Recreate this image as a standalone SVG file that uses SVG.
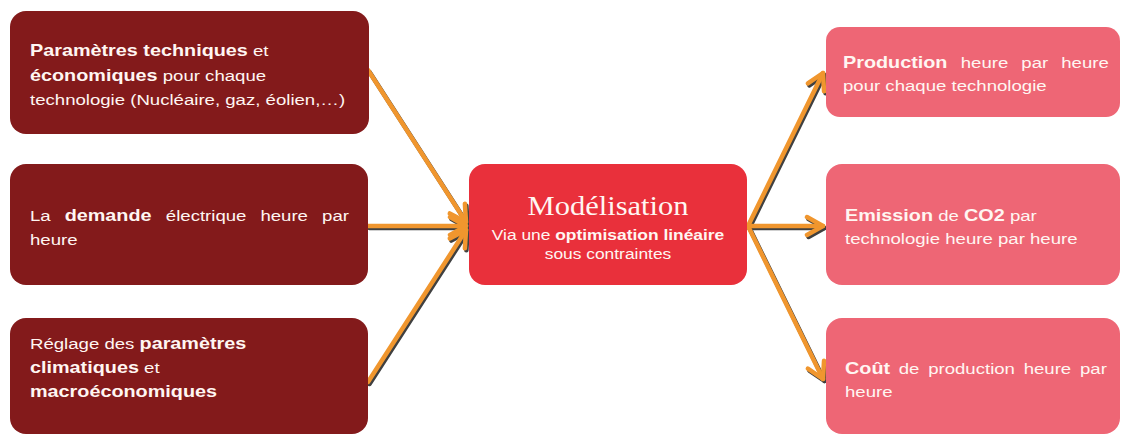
<svg xmlns="http://www.w3.org/2000/svg" width="1121" height="435" viewBox="0 0 1121 435">
<style>
.t{font-family:"Liberation Sans",Arial,sans-serif;font-size:15.5px;fill:#FFF6F2}
.b{font-weight:bold;font-size:16.5px}
.c{font-family:"Liberation Sans",Arial,sans-serif;font-size:14.5px;fill:#FFF6F2}
.serif{font-family:"Liberation Serif","Times New Roman",serif;font-size:28px;fill:#FFF6F2}
.dark{fill:#831A1B}
.mid{fill:#E9303B}
.light{fill:#EE6675}
.ar{stroke:#F0962E;stroke-width:4.5;fill:none;stroke-linecap:round}
.sh{stroke:#404040;stroke-width:4.5;fill:none;stroke-linecap:round}
</style>
<defs>
<marker id="ah" viewBox="-20 -12 24 24" refX="0" refY="0" markerWidth="24" markerHeight="24" markerUnits="userSpaceOnUse" orient="auto">
<path d="M-16,-9 L0,0 L-16,9" fill="none" stroke="#F0962E" stroke-width="4.5" stroke-linecap="round" stroke-linejoin="round"/>
</marker>
<marker id="ahs" viewBox="-20 -12 24 24" refX="0" refY="0" markerWidth="24" markerHeight="24" markerUnits="userSpaceOnUse" orient="auto">
<path d="M-16,-9 L0,0 L-16,9" fill="none" stroke="#404040" stroke-width="4.5" stroke-linecap="round" stroke-linejoin="round"/>
</marker>
</defs>
<rect width="1121" height="435" fill="#FFFFFF"/>

<g id="connectors">
<g transform="translate(1.5,2)">
<line class="sh" x1="368" y1="70" x2="466" y2="222" marker-end="url(#ahs)"/>
<line class="sh" x1="368" y1="226" x2="466" y2="226" marker-end="url(#ahs)"/>
<line class="sh" x1="368" y1="382" x2="466" y2="230" marker-end="url(#ahs)"/>
<line class="sh" x1="748" y1="226" x2="823" y2="73" marker-end="url(#ahs)"/>
<line class="sh" x1="748" y1="226" x2="823" y2="226" marker-end="url(#ahs)"/>
<line class="sh" x1="748" y1="226" x2="823" y2="379" marker-end="url(#ahs)"/>
</g>
<line class="ar" x1="368" y1="70" x2="466" y2="222" marker-end="url(#ah)"/>
<line class="ar" x1="368" y1="226" x2="466" y2="226" marker-end="url(#ah)"/>
<line class="ar" x1="368" y1="382" x2="466" y2="230" marker-end="url(#ah)"/>
<line class="ar" x1="748" y1="226" x2="823" y2="73" marker-end="url(#ah)"/>
<line class="ar" x1="748" y1="226" x2="823" y2="226" marker-end="url(#ah)"/>
<line class="ar" x1="748" y1="226" x2="823" y2="379" marker-end="url(#ah)"/>
</g>

<g id="in1">
<rect class="dark" x="10" y="11" width="359" height="123" rx="16"/>
<g transform="translate(30,0) scale(1.2,1)">
<text class="t" x="0" y="56"><tspan class="b">Paramètres techniques</tspan> et</text>
<text class="t" x="0" y="81"><tspan class="b">économiques</tspan> pour chaque</text>
<text class="t" x="0" y="105">technologie (Nucléaire, gaz, éolien,…)</text>
</g>
</g>

<g id="in2">
<rect class="dark" x="10" y="164" width="358" height="121" rx="16"/>
<g transform="translate(30,0) scale(1.2,1)">
<text class="t" y="221"><tspan x="0">La</tspan><tspan x="28.9" class="b">demande</tspan><tspan x="113.2">électrique</tspan><tspan x="192">heure</tspan><tspan x="243.4">par</tspan></text>
<text class="t" x="0" y="245">heure</text>
</g>
</g>

<g id="in3">
<rect class="dark" x="10" y="318" width="358" height="116" rx="16"/>
<g transform="translate(30,0) scale(1.2,1)">
<text class="t" x="0" y="349">Réglage des <tspan class="b">paramètres</tspan></text>
<text class="t" x="0" y="373"><tspan class="b">climatiques</tspan> et</text>
<text class="t" x="0" y="397"><tspan class="b">macroéconomiques</tspan></text>
</g>
</g>

<g id="model">
<rect class="mid" x="469" y="164" width="278" height="121" rx="16"/>
<g transform="translate(608,0) scale(1.09,1)">
<text class="serif" x="0" y="215" text-anchor="middle">Modélisation</text>
</g>
<g transform="translate(608,0) scale(1.2,1)">
<text class="c" x="0" y="240" text-anchor="middle">Via une <tspan font-weight="bold">optimisation linéaire</tspan></text>
<text class="c" x="0" y="259" text-anchor="middle">sous contraintes</text>
</g>
</g>

<g id="out1">
<rect class="light" x="826" y="27" width="294" height="90" rx="14"/>
<g transform="translate(843,0) scale(1.2,1)">
<text class="t" y="68"><tspan x="0" class="b">Production</tspan><tspan x="98.1">heure</tspan><tspan x="148.6">par</tspan><tspan x="181.9">heure</tspan></text>
<text class="t" x="0" y="91">pour chaque technologie</text>
</g>
</g>

<g id="out2">
<rect class="light" x="826" y="164" width="294" height="121" rx="16"/>
<g transform="translate(845,0) scale(1.2,1)">
<text class="t" x="0" y="221"><tspan class="b">Emission</tspan> de <tspan class="b">CO2</tspan> par</text>
<text class="t" x="0" y="244">technologie heure par heure</text>
</g>
</g>

<g id="out3">
<rect class="light" x="826" y="318" width="294" height="116" rx="16"/>
<g transform="translate(845,0) scale(1.2,1)">
<text class="t" y="374"><tspan x="0" class="b">Coût</tspan><tspan x="44.8">de</tspan><tspan x="69.3">production</tspan><tspan x="148.9">heure</tspan><tspan x="195.8">par</tspan></text>
<text class="t" x="0" y="397">heure</text>
</g>
</g>
</svg>
